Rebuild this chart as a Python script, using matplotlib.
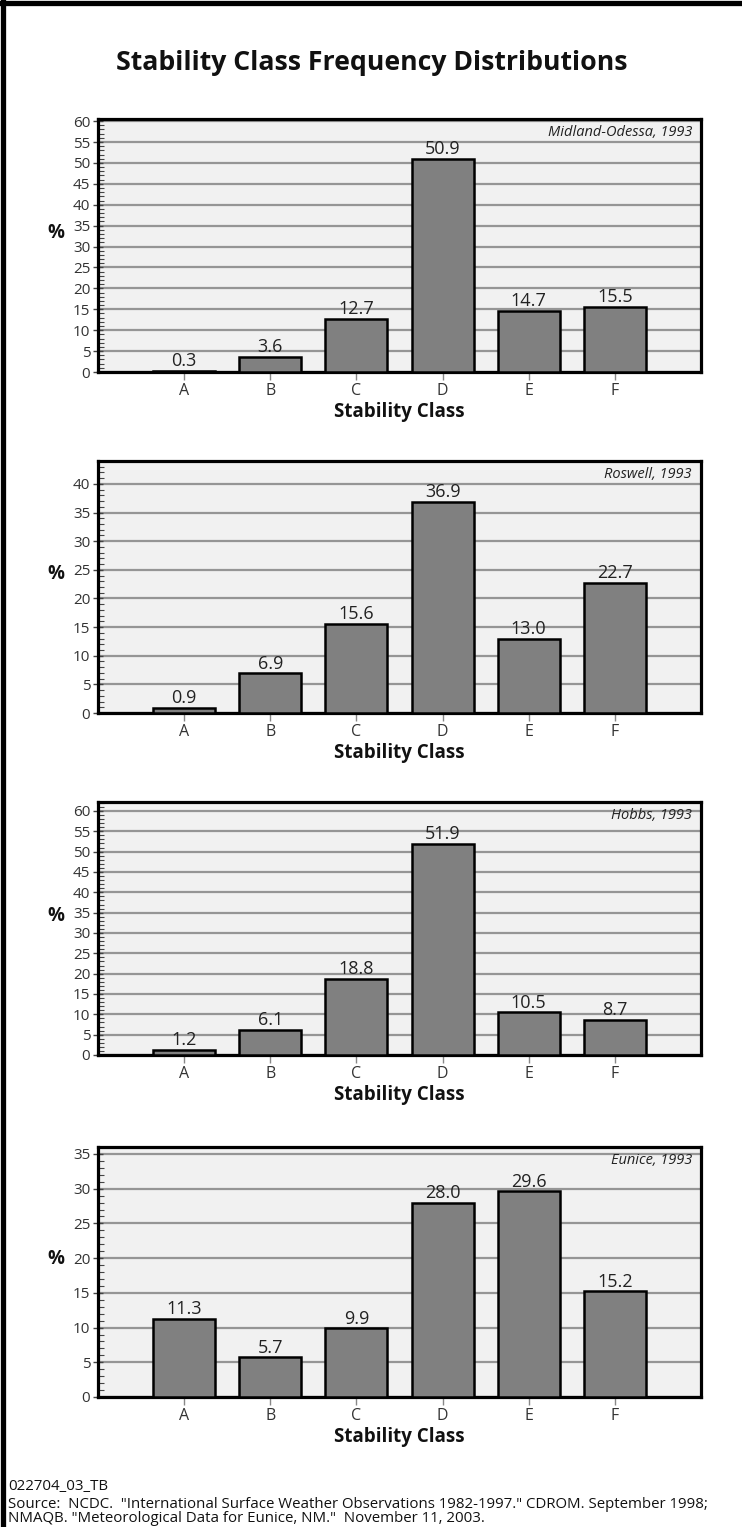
import numpy as np
import matplotlib
matplotlib.use("Agg")
import matplotlib.pyplot as plt
from matplotlib.lines import Line2D
from matplotlib.ticker import MultipleLocator

plt.rcParams['font.family'] = ['Open Sans', 'DejaVu Sans']

classes = ['A', 'B', 'C', 'D', 'E', 'F']
stations = ['Midland-Odessa, 1993', 'Roswell, 1993', 'Hobbs, 1993', 'Eunice, 1993']
midland = [0.3, 3.6, 12.7, 50.9, 14.7, 15.5]
roswell = [0.9, 6.9, 15.6, 36.9, 13.0, 22.7]
hobbs = [1.2, 6.1, 18.8, 51.9, 10.5, 8.7]
eunice = [11.3, 5.7, 9.9, 28.0, 29.6, 15.2]
ymax_ticks = [60, 40, 60, 35]
ylims = [60.5, 44, 62.2, 36]

series = [midland, roswell, hobbs, eunice]

W, H = 742, 1527
fig = plt.figure(figsize=(W / 100, H / 100), dpi=100)

# axes boxes in pixels: (top, bottom)
boxes = [(119, 372), (461, 713), (802, 1055), (1147, 1397)]
left_px, right_px = 98, 701

fig.text(372 / W, 1 - 63 / H, 'Stability Class Frequency Distributions',
         ha='center', va='center', fontsize=19.2, fontweight='bold', color='#111111')

x = np.arange(1, len(classes) + 1)
for vals, name, top_tick, ylim, (t, b) in zip(series, stations, ymax_ticks, ylims, boxes):
    ax = fig.add_axes([left_px / W, 1 - b / H, (right_px - left_px) / W, (b - t) / H])
    ax.set_facecolor('#f1f1f1')
    ax.set_xlim(0, 7)
    ax.set_ylim(0, ylim)
    ax.set_yticks(np.arange(0, top_tick + 1, 5))
    ax.yaxis.set_minor_locator(MultipleLocator(1))
    ax.grid(axis='y', which='major', color='#959595', linewidth=1.6, zorder=0)
    ax.set_axisbelow(True)

    ax.bar(x, vals, width=0.72, color='#808080', edgecolor='black',
           linewidth=1.8, zorder=3)
    for xi, v in zip(x, vals):
        ax.text(xi, v + ylim * 0.003, f'{v:.1f}', ha='center', va='bottom',
                fontsize=13, color='#222222', zorder=4)

    ax.set_xticks(x)
    ax.set_xticklabels(classes)
    ax.tick_params(axis='x', direction='out', length=6, width=1, color='#888888',
                   labelsize=11.5, labelcolor='#333333', pad=2)
    ax.tick_params(axis='y', which='major', direction='inout', length=7, width=1,
                   color='#444444', labelsize=11, labelcolor='#333333', pad=2)
    ax.tick_params(axis='y', which='minor', direction='in', length=4, width=0.8,
                   color='#444444')
    for s in ax.spines.values():
        s.set_linewidth(2.3)
        s.set_color('black')

    ax.set_xlabel('Stability Class', fontsize=13.5, fontweight='bold', color='#111111',
                  labelpad=2)
    ax.text(-0.07, 0.55, '%', transform=ax.transAxes, ha='center', va='center',
            fontsize=13.5, fontweight='bold', color='#111111')
    ax.text(0.985, 0.975, name, transform=ax.transAxes, ha='right', va='top',
            fontsize=10.5, style='italic', color='#222222')

# footer
foot = 10.8
fig.text(8 / W, 1 - 1487 / H, '022704_03_TB', ha='left', va='center',
         fontsize=foot, color='#111111')
fig.text(8 / W, 1 - 1504 / H,
         'Source:  NCDC.  "International Surface Weather Observations 1982-1997." CDROM. September 1998;',
         ha='left', va='center', fontsize=foot, color='#111111')
fig.text(8 / W, 1 - 1519 / H,
         'NMAQB. "Meteorological Data for Eunice, NM."  November 11, 2003.',
         ha='left', va='center', fontsize=foot, color='#111111')

# thick frame on top and left edges
fig.add_artist(Line2D([0, 1], [1 - 2.5 / H, 1 - 2.5 / H], transform=fig.transFigure,
                      color='black', linewidth=3.8))
fig.add_artist(Line2D([2.5 / W, 2.5 / W], [0, 1], transform=fig.transFigure,
                      color='black', linewidth=3.8))

fig.savefig('out.png', dpi=100)
